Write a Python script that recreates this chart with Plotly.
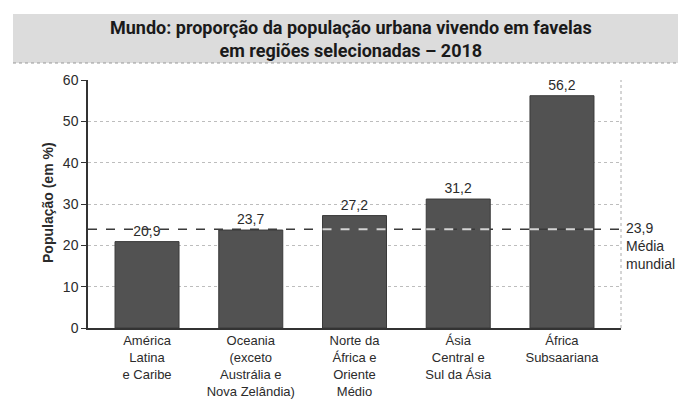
import plotly.graph_objects as go

categories = ["América<br>Latina<br>e Caribe",
              "Oceania<br>(exceto<br>Austrália e<br>Nova Zelândia)",
              "Norte da<br>África e<br>Oriente<br>Médio",
              "Ásia<br>Central e<br>Sul da Ásia",
              "África<br>Subsaariana"]
values = [20.9, 23.7, 27.2, 31.2, 56.2]
world_avg = 23.9
y_ticks = [0, 10, 20, 30, 40, 50, 60]

W, H = 686, 402
L, R, T, B = 80, 73, 72, 82
pw, ph = W - L - R, H - T - B

def px_x(x):
    return (x - L) / pw

def px_y(y):
    return (H - B - y) / ph

xs = list(range(len(categories)))
bar_w = 0.617
text_col = "#2b2b2b"
font_fam = "Liberation Sans, Arial"

fig = go.Figure()

# dashed world-average line (dark) across the plot
fig.add_trace(go.Scatter(
    x=[-0.569, 4.569], y=[world_avg, world_avg], mode="lines",
    line=dict(color="#3a3a3a", width=1.5, dash="dash"),
    showlegend=False, hoverinfo="skip", cliponaxis=False))

fig.add_trace(go.Bar(
    x=xs, y=values, width=bar_w,
    marker=dict(color="#525252", line=dict(color="#3a3a3a", width=1)),
    text=values, texttemplate="%{y:.1f}", textposition="outside",
    textfont=dict(family=font_fam, size=14, color=text_col),
    cliponaxis=False, showlegend=False, hoverinfo="skip",
))

# lighter segment where the line crosses taller bars
for i, v in enumerate(values):
    if v > world_avg:
        fig.add_trace(go.Scatter(
            x=[i - bar_w / 2, i + bar_w / 2], y=[world_avg, world_avg], mode="lines",
            line=dict(color="#d4d4d4", width=2, dash="dash"),
            showlegend=False, hoverinfo="skip"))

# right dotted border of plot
fig.add_shape(type="line", xref="paper", yref="y", x0=1, x1=1, y0=0, y1=y_ticks[-1],
              line=dict(color="#aaaaaa", width=1, dash="dot"))

# title box
fig.add_shape(type="rect", xref="paper", yref="paper",
              x0=px_x(5), x1=px_x(686), y0=px_y(55), y1=px_y(6),
              fillcolor="#dcdcdc", line=dict(width=0), layer="below")
fig.add_shape(type="line", xref="paper", yref="paper",
              x0=px_x(5), x1=px_x(686), y0=px_y(55), y1=px_y(55),
              line=dict(color="#999999", width=1, dash="dot"))
# outer frame right dotted border
fig.add_shape(type="line", xref="paper", yref="paper",
              x0=px_x(682), x1=px_x(682), y0=px_y(55), y1=px_y(402),
              line=dict(color="#aaaaaa", width=1, dash="dot"))

fig.add_annotation(xref="paper", yref="paper", x=px_x(343), y=px_y(31),
                   text="<b>Mundo: proporção da população urbana vivendo em favelas<br>em regiões selecionadas – 2018</b>",
                   showarrow=False, xanchor="center", yanchor="middle",
                   font=dict(family="Roboto", size=18, color="#1a1a1a"))

fig.add_annotation(xref="paper", yref="paper", x=px_x(40), y=px_y(194),
                   text="<b>População (em %)</b>", textangle=-90, showarrow=False,
                   xanchor="center", yanchor="middle",
                   font=dict(family=font_fam, size=14, color=text_col))

fig.add_annotation(xref="paper", yref="y", x=px_x(616), y=world_avg,
                   text="23,9<br>Média<br>mundial", align="left", showarrow=False,
                   xanchor="left", yanchor="top", yshift=11,
                   font=dict(family=font_fam, size=14, color=text_col))

fig.update_layout(
    width=W, height=H, margin=dict(l=L, r=R, t=T, b=B),
    plot_bgcolor="white", paper_bgcolor="white",
    separators=",.",
    xaxis=dict(range=[-0.569, 4.569], tickvals=xs, ticktext=categories,
               showgrid=False, showline=True, linecolor="#333333", linewidth=1.5,
               ticks="", zeroline=False, fixedrange=True,
               tickfont=dict(family=font_fam, size=13, color=text_col)),
    yaxis=dict(range=[0, 60], tickvals=y_ticks, showgrid=True, gridcolor="#bdbdbd",
               griddash="dot", gridwidth=1, showline=True, linecolor="#333333", linewidth=1.5,
               ticks="outside", ticklen=5, tickcolor="#333333", zeroline=False,
               tickfont=dict(family=font_fam, size=14, color=text_col)),
)

fig.write_html("out.html")
